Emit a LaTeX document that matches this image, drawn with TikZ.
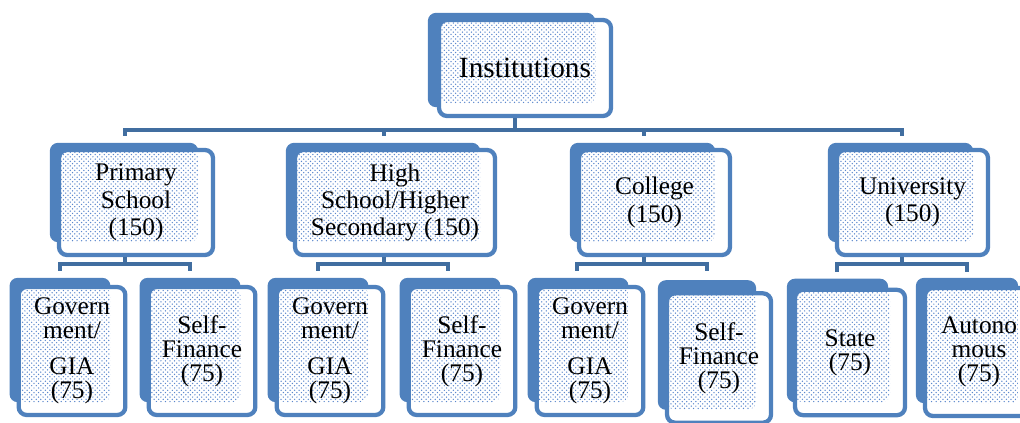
\documentclass[tikz,border=0pt]{standalone}
\usepackage{fontspec}
\setmainfont{Liberation Serif}
\usepackage{xcolor}
\usetikzlibrary{patterns}
\usetikzlibrary{backgrounds}
\usetikzlibrary{calc}

\definecolor{boxblue}{RGB}{79,129,189}
\definecolor{linkblue}{RGB}{65,110,160}
\definecolor{dotblue}{RGB}{90,135,205}

\pgfdeclarepatternformonly{boxdots}{\pgfqpoint{-1pt}{-1pt}}{\pgfqpoint{4.4pt}{4.4pt}}{\pgfqpoint{3.4pt}{3.4pt}}%
{\pgfpathcircle{\pgfqpoint{0pt}{0pt}}{0.55pt}\pgfpathcircle{\pgfqpoint{1.7pt}{1.7pt}}{0.55pt}\pgfusepath{fill}}

\tikzset{
  frontbox/.style={draw=boxblue, line width=3.2pt, fill=white, rounded corners=6pt,
    inner sep=0pt, align=center, font=\fontsize{19}{20.5}\selectfont,
    path picture={\fill[pattern=boxdots, pattern color=dotblue]
      (path picture bounding box.north west) rectangle ($(path picture bounding box.south east)+(-15,-13)$);}},
  leafbox/.style={frontbox, minimum width=80pt, minimum height=96pt, font=\fontsize{19}{18}\selectfont},
  backbox/.style={fill=boxblue, rounded corners=6pt},
  link/.style={draw=linkblue, line width=3pt}
}

\begin{document}
\begin{tikzpicture}[x=0.75pt, y=-0.75pt]
  \useasboundingbox (0,0) rectangle (1020,422);

  \node[frontbox, minimum width=129pt, minimum height=72pt, font=\fontsize{22}{24}\selectfont] (inst) at (525,68) {Institutions};

  \node[frontbox, minimum width=115.5pt, minimum height=78.75pt] (prim) at (136,202.5) {Primary\\School\\(150)};
  \node[frontbox, minimum width=150pt, minimum height=78.75pt] (high) at (395,202.5) {High\\School/Higher\\Secondary (150)};
  \node[frontbox, minimum width=113.25pt, minimum height=78.75pt] (coll) at (654.5,202.5) {College\\(150)};
  \node[frontbox, minimum width=113.25pt, minimum height=78.75pt] (univ) at (912.5,202.5) {University\\(150)};

  \node[leafbox] (gov1) at (72,351) {Govern\\ment/\\[9pt]GIA\\(75)};
  \node[leafbox] (self1) at (202,351) {Self-\\Finance\\(75)};
  \node[leafbox] (gov2) at (330,351) {Govern\\ment/\\[9pt]GIA\\(75)};
  \node[leafbox] (self2) at (462,351) {Self-\\Finance\\(75)};
  \node[leafbox] (gov3) at (590,351) {Govern\\ment/\\[9pt]GIA\\(75)};
  \node[leafbox, minimum width=78pt, minimum height=97pt] (self3) at (719,358) {Self-\\Finance\\(75)};
  \node[leafbox, minimum width=82.5pt, minimum height=94pt] (state) at (850,352.5) {State\\(75)};
  \node[leafbox, minimum width=81pt] (auton) at (979,352) {Autono\\mous\\(75)};

  \begin{scope}[on background layer]
    \fill[backbox] ($(inst.north west)+(-9,-5)$) rectangle ($(inst.south east)+(-18,-11)$);
    \fill[backbox] ($(prim.north west)+(-7,-5)$) rectangle ($(prim.south east)+(-17,-15)$);
    \fill[backbox] ($(high.north west)+(-7,-5)$) rectangle ($(high.south east)+(-17,-15)$);
    \fill[backbox] ($(coll.north west)+(-7,-5)$) rectangle ($(coll.south east)+(-17,-15)$);
    \fill[backbox] ($(univ.north west)+(-7,-5)$) rectangle ($(univ.south east)+(-17,-15)$);
    \fill[backbox] ($(gov1.north west)+(-7,-7)$) rectangle ($(gov1.south east)+(-17,-15)$);
    \fill[backbox] ($(self1.north west)+(-7,-7)$) rectangle ($(self1.south east)+(-17,-15)$);
    \fill[backbox] ($(gov2.north west)+(-7,-7)$) rectangle ($(gov2.south east)+(-17,-15)$);
    \fill[backbox] ($(self2.north west)+(-7,-7)$) rectangle ($(self2.south east)+(-17,-15)$);
    \fill[backbox] ($(gov3.north west)+(-7,-7)$) rectangle ($(gov3.south east)+(-17,-15)$);
    \fill[backbox] ($(self3.north west)+(-7,-11)$) rectangle ($(self3.south east)+(-17,-15)$);
    \fill[backbox] ($(state.north west)+(-6,-9)$) rectangle ($(state.south east)+(-19,-15)$);
    \fill[backbox] ($(auton.north west)+(-7,-8)$) rectangle ($(auton.south east)+(-17,-15)$);
  \end{scope}

  % top level
  \draw[link] ($(inst.south)+(-10,0)$) -- ++(0,12) -| ($(prim.north)+(-11,-12)$);
  \draw[link] ($(inst.south)+(-10,0)$) -- ++(0,12) -| ($(high.north)+(-11,-12)$);
  \draw[link] ($(inst.south)+(-10,0)$) -- ++(0,12) -| ($(coll.north)+(-11,-12)$);
  \draw[link] ($(inst.south)+(-10,0)$) -- ++(0,12) -| ($(univ.north)+(-11,-12)$);

  % second level
  \draw[link] ($(prim.south)+(-11,0)$) -- ++(0,7) -| ($(gov1.north)+(-12,-14)$);
  \draw[link] ($(prim.south)+(-11,0)$) -- ++(0,7) -| ($(self1.north)+(-12,-14)$);
  \draw[link] ($(high.south)+(-11,0)$) -- ++(0,7) -| ($(gov2.north)+(-12,-14)$);
  \draw[link] ($(high.south)+(-11,0)$) -- ++(0,7) -| ($(self2.north)+(-14,-14)$);
  \draw[link] ($(coll.south)+(-11,0)$) -- ++(0,7) -| ($(gov3.north)+(-13,-14)$);
  \draw[link] ($(coll.south)+(-11,0)$) -- ++(0,7) -| ($(self3.north)+(-12,-20)$);
  \draw[link] ($(univ.south)+(-11,0)$) -- ++(0,7) -| ($(state.north)+(-13,-16)$);
  \draw[link] ($(univ.south)+(-11,0)$) -- ++(0,7) -| ($(auton.north)+(-12,-14)$);
\end{tikzpicture}
\end{document}
